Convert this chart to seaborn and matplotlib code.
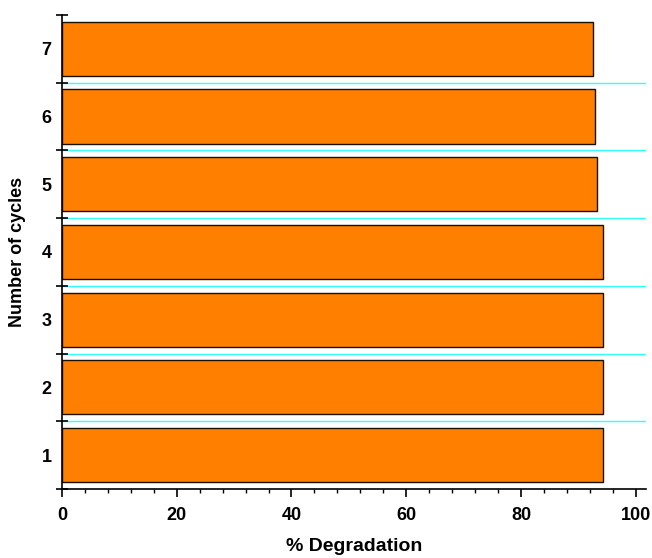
import matplotlib
matplotlib.use("Agg")
import matplotlib.pyplot as plt
from matplotlib.ticker import FixedLocator, MultipleLocator
import pandas as pd
import seaborn as sns

cycles = ["7", "6", "5", "4", "3", "2", "1"]
degradation = [92.5, 92.9, 93.3, 94.2, 94.3, 94.3, 94.3]

df = pd.DataFrame({"cycle": cycles, "degradation": degradation})

sns.set_style("ticks")
plt.rcParams["font.family"] = ["Liberation Sans", "DejaVu Sans"]
plt.rcParams["font.weight"] = "bold"
plt.rcParams["text.color"] = "black"
plt.rcParams["axes.labelcolor"] = "black"
plt.rcParams["xtick.color"] = "black"
plt.rcParams["ytick.color"] = "black"
plt.rcParams["axes.edgecolor"] = "black"

fig = plt.figure(figsize=(6.52, 5.58), dpi=100)
ax = fig.add_axes([0.095, 0.1237, 0.896, 0.8494])

sns.barplot(data=df, x="degradation", y="cycle", order=cycles, orient="h",
            color="#FF8000", saturation=1, width=0.8,
            edgecolor="#1a1000", linewidth=1.0, ax=ax)

n = len(cycles)
ax.set_xlim(0, 101.8)
ax.set_ylim(n - 0.5, -0.5)

# separators between categories
for b in range(n - 1):
    ax.axhline(b + 0.5, color="#33FFFF", lw=1.0, zorder=0)

# y: labels at bar centres, tick marks at category boundaries
ax.yaxis.set_major_locator(FixedLocator(range(n)))
ax.set_yticklabels(cycles)
ax.yaxis.set_minor_locator(FixedLocator([b - 0.5 for b in range(n + 1)]))
ax.tick_params(axis="y", which="major", length=0, pad=7.5, labelsize=13)
ax.tick_params(axis="y", which="minor", direction="inout", length=8, width=1.2, color="black")

# x: majors every 20, minors every 4
ax.xaxis.set_major_locator(MultipleLocator(20))
ax.xaxis.set_minor_locator(MultipleLocator(4))
ax.tick_params(axis="x", which="major", direction="out", length=5.8, width=1.2, pad=7, labelsize=13)
ax.tick_params(axis="x", which="minor", direction="out", length=3, width=1.0)

for lbl in ax.get_xticklabels() + ax.get_yticklabels():
    lbl.set_fontweight("bold")

sns.despine(ax=ax)
ax.spines["left"].set_linewidth(1.2)
ax.spines["bottom"].set_linewidth(1.2)

ax.set_xlabel("% Degradation", fontsize=14, fontweight="bold", labelpad=10)
ax.set_ylabel("Number of cycles", fontsize=13, fontweight="bold", labelpad=11)

fig.savefig("out.png", dpi=100)
